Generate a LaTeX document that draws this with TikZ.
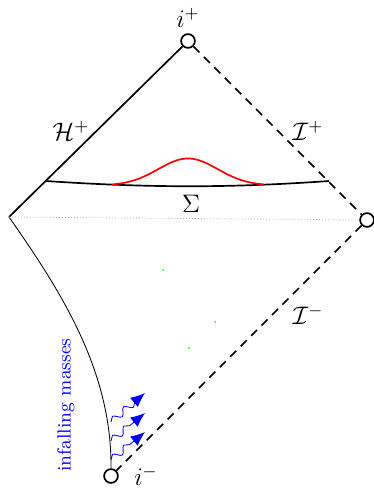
\documentclass[tikz,border=0pt]{standalone}
\usepackage{amsmath,amssymb}
\usepackage{tikz}
\usetikzlibrary{arrows.meta, positioning, decorations.pathmorphing}

\begin{document}
\begin{tikzpicture}[x=0.01667cm, y=-0.01667cm,
            infinity/.style={circle, draw, thick, fill=white, inner sep=0pt, minimum size=2.3mm},
            scri/.style={thick, dashed, dash pattern=on 4pt off 3pt},
            lab/.style={font=\large},
            infall/.style={blue, decorate, decoration={snake, amplitude=1.6pt, segment length=7pt, post length=2.2mm}, -{Latex[length=2.4mm, width=2mm]}}
        ]
        \useasboundingbox (0,0) rectangle (373,489);

        % Corners
        \node[infinity] (ip) at (188,41) {};
        \node[infinity] (io) at (367,220) {};
        \node[infinity] (im) at (111,476) {};
        \coordinate (L) at (9,217);

        % Boundaries
        \draw[thick] (L) -- (ip);
        \draw[scri] (ip) -- (io);
        \draw[scri] (io) -- (im);
        \draw (L) .. controls (60,290) and (112,370) .. (im.north);
        \draw[gray!60, densely dotted] (L) -- (io.west);

        % Cauchy surface and pulse
        \coordinate (s1) at (46,181);
        \coordinate (s2) at (329,181);
        \draw[thick] (s1) .. controls (150,188) and (230,188) .. (s2);
        \draw[red, thick, domain=-76:76, samples=60] plot ({188+\x},{185.5-27*exp(-(\x/42)^2)});

        % Labels
        \node[lab, above=-1pt of ip] (ipl) {$i^+$};
        \node[lab] (iml) at (146,476) {$i^-$};
        \node[lab] (hp) at (71,131) {$\mathcal{H}^+$};
        \node[lab] (sp) at (308,131) {$\mathcal{I}^+$};
        \node[lab] (sm) at (308,315) {$\mathcal{I}^-$};
        \node[lab] (sig) at (191,204) {$\Sigma$};
        \node[blue, rotate=90, font=\small] (mass) at (66,405) {infalling masses};

        % Infalling matter
        \coordinate (w1) at (111,460);
        \coordinate (w2) at (111,441);
        \coordinate (w3) at (111,422);
        \coordinate (t1) at (145,432);
        \coordinate (t2) at (145,413);
        \coordinate (t3) at (145,393);
        \draw[infall] (w1) -- (t1);
        \draw[infall] (w2) -- (t2);
        \draw[infall] (w3) -- (t3);

        % Stray dots
        \fill[green] (163,270) circle (1);
        \fill[green] (215,322) circle (1);
        \fill[green] (189,348) circle (1);

        \end{tikzpicture}
\end{document}
